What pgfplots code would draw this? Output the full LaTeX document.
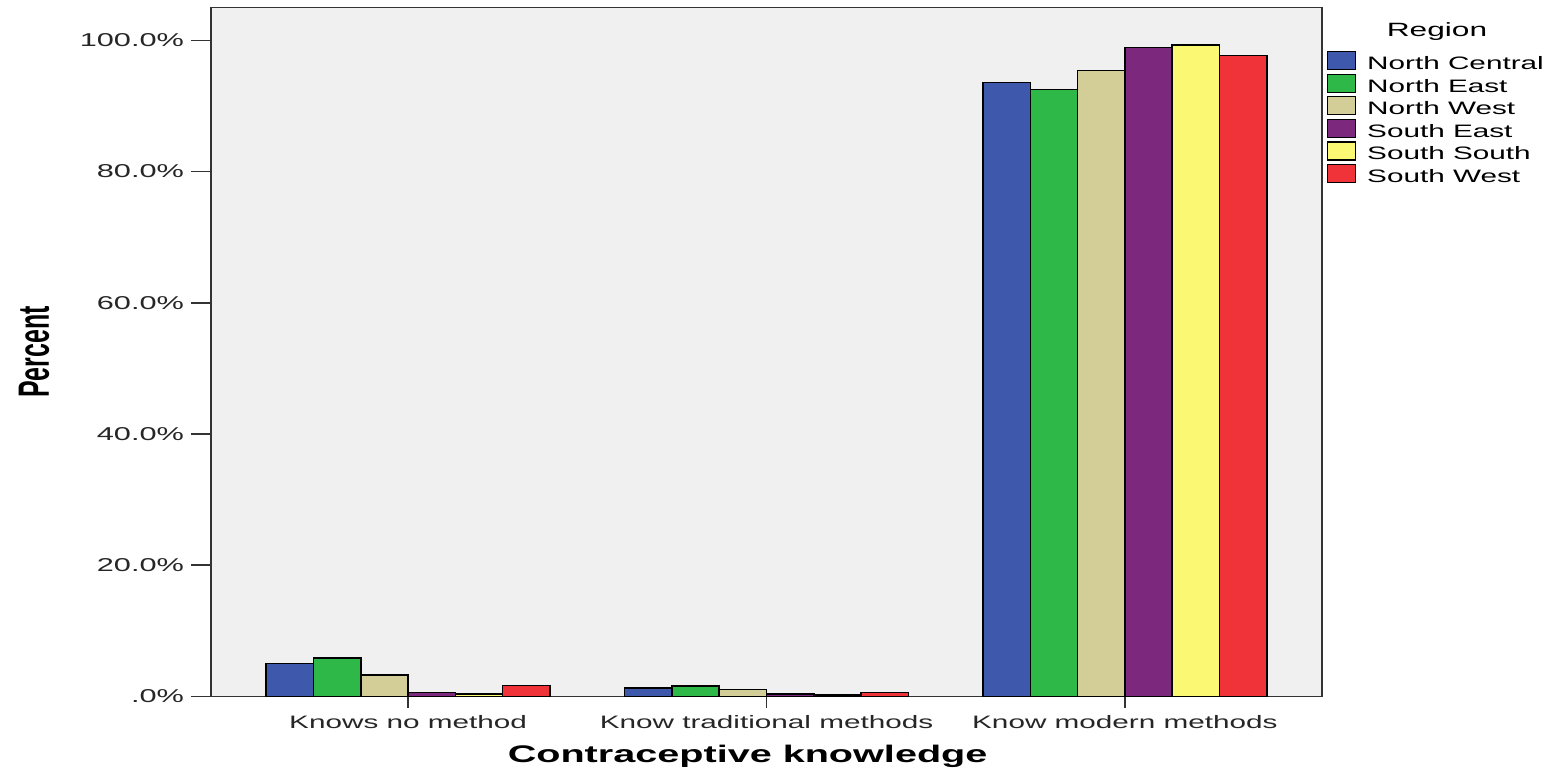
\documentclass[border=0pt]{standalone}
\usepackage{fontspec}
\setmainfont{Liberation Sans}[FakeStretch=1.65]
\newfontfamily\condfont{Liberation Sans}[FakeStretch=0.57]
\usepackage{pgfplots}
\pgfplotsset{compat=1.18}

\definecolor{ncBlue}{HTML}{3E58AC}
\definecolor{neGreen}{HTML}{2EB848}
\definecolor{nwBeige}{HTML}{D3CE97}
\definecolor{sePurple}{HTML}{7C287D}
\definecolor{ssYellow}{HTML}{FBF873}
\definecolor{swRed}{HTML}{EF3338}
\definecolor{bgGray}{HTML}{F0F0F0}
\definecolor{frameGray}{HTML}{333333}

% 0 = Knows no method, 1 = Know traditional methods, 2 = Know modern methods
\pgfplotstableread{
x nc ne nw se ss sw
0 5.0 5.9 3.3 0.6 0.4 1.7
1 1.3 1.6 1.1 0.4 0.2 0.6
2 93.6 92.5 95.4 98.9 99.3 97.7
}\knowledge

\begin{document}
\begin{tikzpicture}
\begin{axis}[
  name=ax,
  scale only axis,
  width=555.5bp, height=344.5bp,
  xmin=-0.55, xmax=2.55,
  ymin=0, ymax=105,
  ybar=0pt, bar width=0.132,
  axis background/.style={fill=bgGray},
  axis line style={draw=frameGray, line width=0.8bp},
  xtick={0,1,2},
  xticklabels={Knows no method, Know traditional methods, Know modern methods},
  ytick={0,20,40,60,80,100},
  yticklabels={.0\%, 20.0\%, 40.0\%, 60.0\%, 80.0\%, 100.0\%},
  tick align=outside,
  xtick pos=bottom, ytick pos=left,
  major tick length=10bp,
  xtick style={/pgfplots/major tick length=5.5bp},
  tick style={draw=frameGray, line width=0.8bp},
  /pgf/number format/assume math mode=true,
  xticklabel style={font=\fontsize{9bp}{10bp}\selectfont, text=black!85, yshift=4bp},
  yticklabel style={font=\fontsize{9.3bp}{10bp}\selectfont, text=black!85},
  xlabel={Contraceptive knowledge},
  xlabel style={at={(rel axis cs:0.483,-0.0958)}, anchor=base, inner sep=0pt,
    font=\fontsize{12bp}{14bp}\selectfont\bfseries},
  ylabel={Percent},
  ylabel style={at={(rel axis cs:-0.1593,0.5)}, anchor=center, inner sep=0pt,
    font=\condfont\bfseries\fontsize{21.9bp}{24bp}\selectfont},
  legend style={draw=none, fill=none, at={(rel axis cs:1,1)}, anchor=north west,
    xshift=2.5bp, yshift=-21.75bp, inner sep=0pt, outer sep=0pt,
    row sep=0.6bp, column sep=5.5bp,
    font=\fontsize{9bp}{10bp}\selectfont,
    nodes={inner sep=0pt}},
  legend cell align=left,
  legend image code/.code={\draw[#1, draw=black, line width=0.6bp] (0bp,-2.6bp) rectangle (14bp,6.4bp);},
  every axis plot/.append style={draw=black, line width=0.75bp},
]
\addplot[fill=ncBlue] table[x=x, y=nc] {\knowledge};
\addplot[fill=neGreen] table[x=x, y=ne] {\knowledge};
\addplot[fill=nwBeige] table[x=x, y=nw] {\knowledge};
\addplot[fill=sePurple] table[x=x, y=se] {\knowledge};
\addplot[fill=ssYellow] table[x=x, y=ss] {\knowledge};
\addplot[fill=swRed] table[x=x, y=sw] {\knowledge};
\legend{North Central, North East, North West, South East, South South, South West}
\end{axis}
\node[anchor=base, inner sep=0pt, font=\fontsize{9.6bp}{11bp}\selectfont]
  at ([shift={(57.5bp,-14.75bp)}]ax.north east) {Region};
\pgfresetboundingbox
\path[use as bounding box] ([shift={(-105.5bp,-38bp)}]ax.south west)
  rectangle ([shift={(115.5bp,3.75bp)}]ax.north east);
\end{tikzpicture}
\end{document}
